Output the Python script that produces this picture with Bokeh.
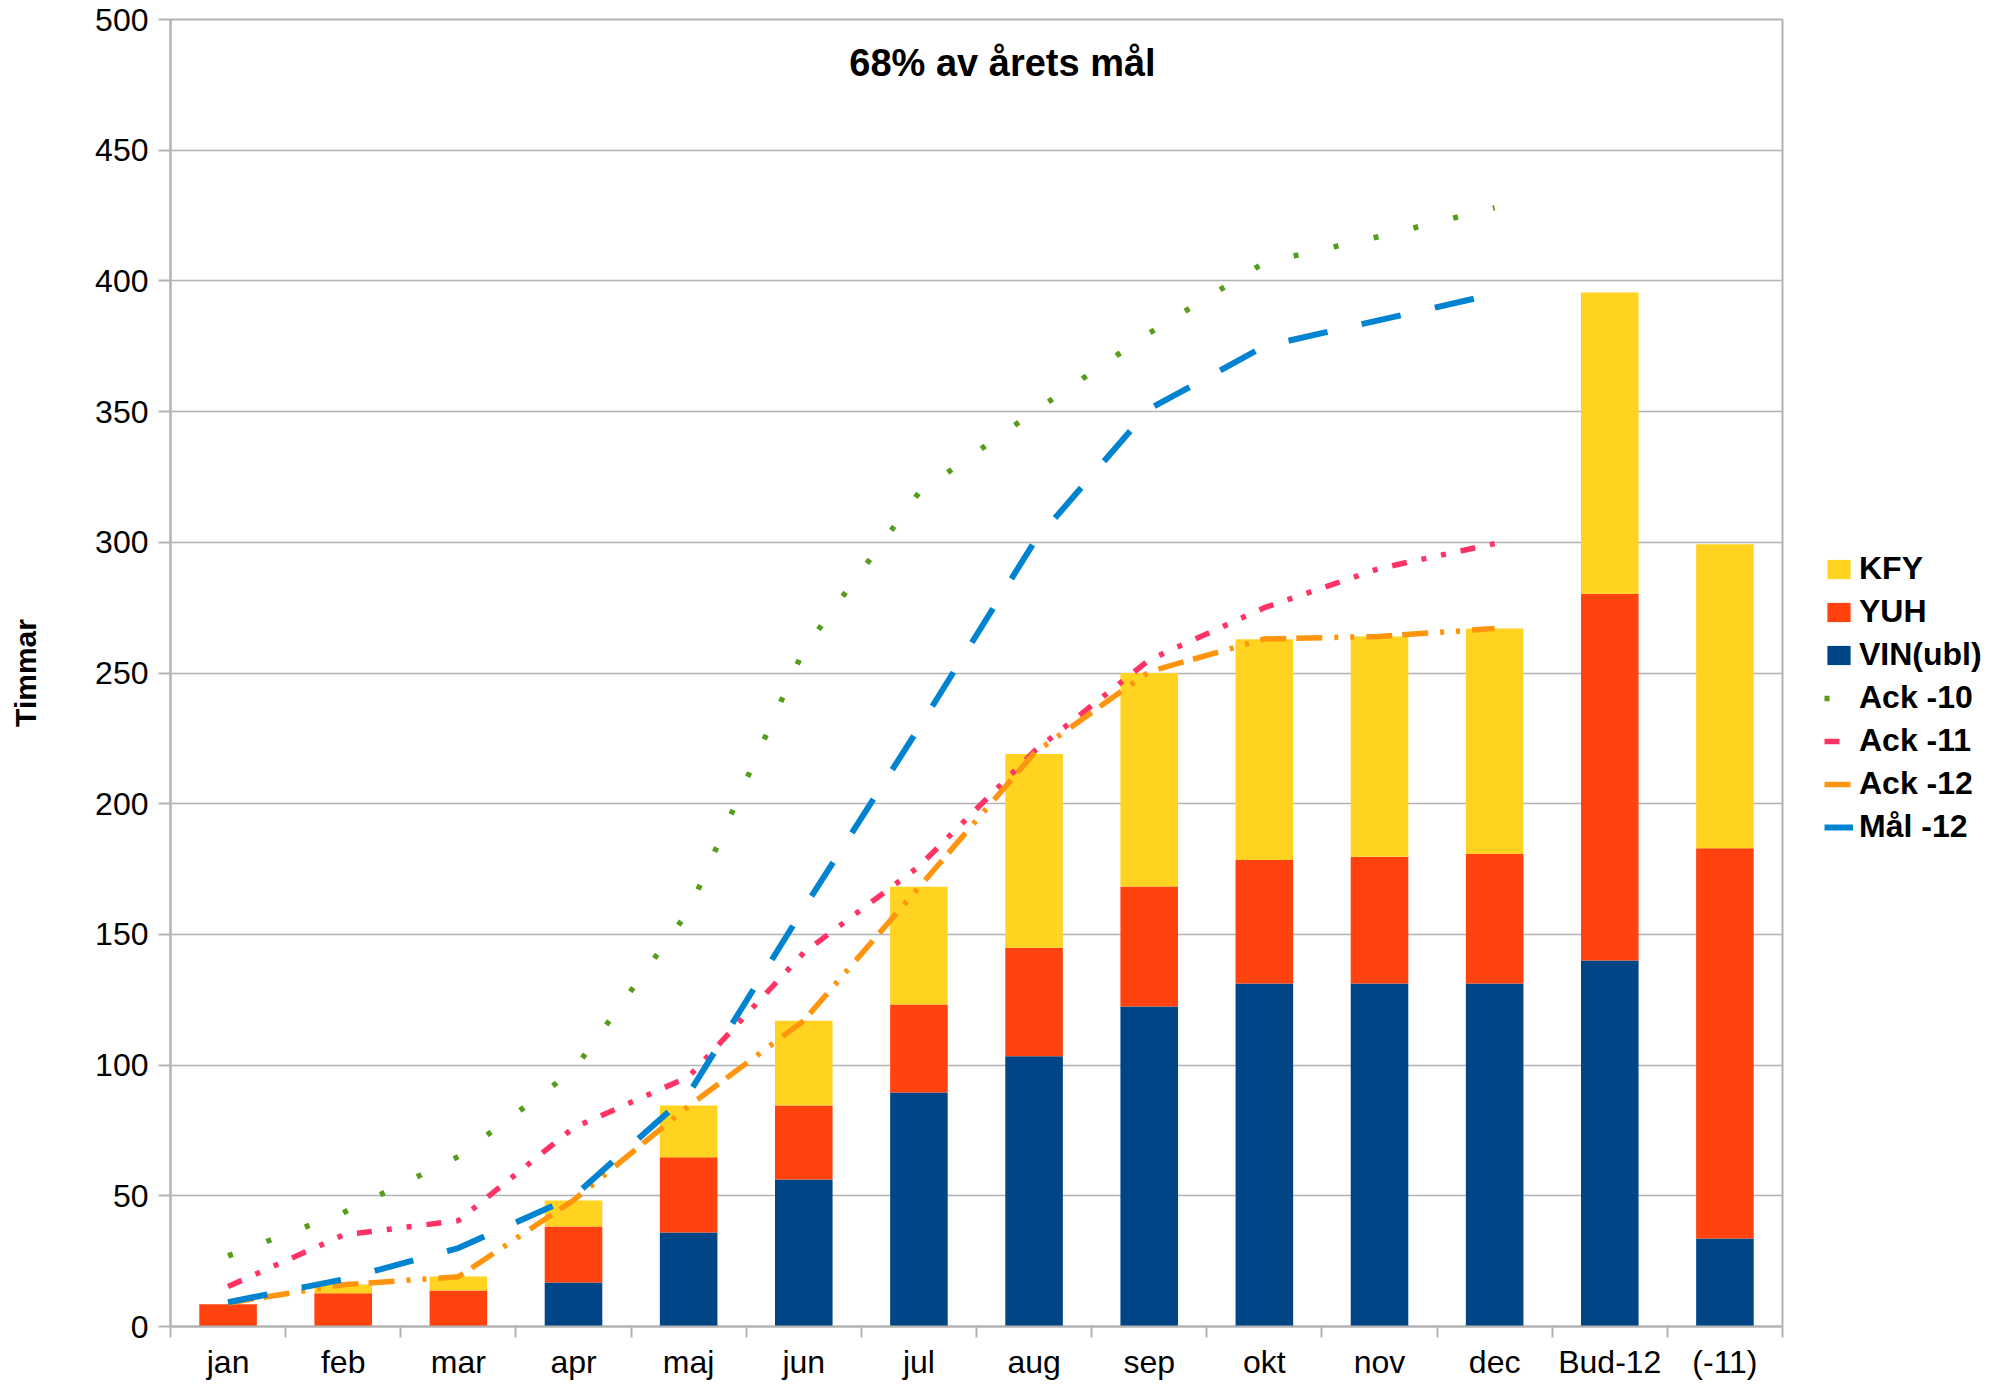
import numpy as np
from bokeh.plotting import figure
from bokeh.layouts import row
from bokeh.models import (Range1d, FixedTicker, SingleIntervalTicker, Legend, LegendItem,
                          Label, ColumnDataSource)
from bokeh.embed import file_html
from bokeh.resources import INLINE

# ---------------- data ----------------
categories = ["jan", "feb", "mar", "apr", "maj", "jun", "jul", "aug", "sep", "okt",
              "nov", "dec", "Bud-12", "(-11)"]
vin = [0, 0, 0, 16.8, 36.0, 56.2, 89.5, 103.4, 122.4, 131.2, 131.2, 131.2, 140.0, 33.7]
yuh = [8.5, 12.7, 13.8, 21.5, 28.7, 28.3, 33.7, 41.5, 45.9, 47.3, 48.5, 49.7, 140.3, 149.3]
kfy = [0, 3.4, 5.3, 9.9, 19.8, 32.5, 45.0, 74.1, 81.7, 84.4, 84.3, 86.1, 115.3, 116.3]

months = ["jan", "feb", "mar", "apr", "maj", "jun", "jul", "aug", "sep", "okt", "nov", "dec"]
ack10 = [27, 43.5, 65, 98, 159, 259, 319, 350, 380, 407, 417, 428]
ack11 = [15.3, 35, 40.5, 76, 95.5, 143, 176, 220, 255, 275, 290, 299.5]
ack12 = [9, 16, 19, 48.3, 84.3, 117, 168, 219.3, 250.5, 263, 264, 267]
mal12 = [9.3, 18, 30, 49.7, 89, 160, 229, 300, 351, 375, 385, 395]

y_ticks_step = 50
y_max = 500
title_text = "68% av årets mål"
y_label = "Timmar"

# category slots on a linear axis: slot i is centred at i + 0.5
n_cat = len(categories)
x_pos = list(np.arange(n_cat) + 0.5)
x_line = x_pos[:len(months)]
bounds = list(range(n_cat + 1))

# ---------------- style ----------------
FONT = "Liberation Sans"
GRID = "#b3b3b3"
C_VIN = "#004586"
C_YUH = "#FF420E"
C_KFY = "#FFD320"
C_A10 = "#579D1C"
C_A11 = "#FF3366"
C_A12 = "#FF950E"
C_MAL = "#0084D1"

STY10 = dict(line_color=C_A10, line_width=5.5, line_dash="5 36", line_cap="butt")
STY11 = dict(line_color=C_A11, line_width=5.5, line_dash="15 15 5 15 5 15", line_cap="butt")
STY12 = dict(line_color=C_A12, line_width=5.5, line_dash="26 10 26 12 4 12 4 12", line_cap="butt")
STYM = dict(line_color=C_MAL, line_width=6, line_dash="40 35", line_cap="butt")

p = figure(width=1784, height=1385,
           x_range=Range1d(0, n_cat), y_range=Range1d(0, y_max),
           output_backend="svg", toolbar_location=None,
           min_border_left=170, min_border_right=2,
           min_border_top=19, min_border_bottom=59)

p.background_fill_color = "white"
p.border_fill_color = "white"
p.outline_line_color = GRID
p.outline_line_width = 2

xax = p.xaxis[0]
xax.ticker = FixedTicker(ticks=x_pos, minor_ticks=bounds)
xax.major_label_overrides = {float(x): c for x, c in zip(x_pos, categories)}
xax.axis_line_color = GRID
xax.axis_line_width = 2
xax.major_tick_line_color = None
xax.major_tick_in = 0
xax.major_tick_out = 0
xax.minor_tick_line_color = GRID
xax.minor_tick_line_width = 2
xax.minor_tick_in = 0
xax.minor_tick_out = 11
xax.major_label_standoff = 6
xax.major_label_text_font = FONT
xax.major_label_text_font_size = "32px"
xax.major_label_text_color = "black"

yax = p.yaxis[0]
yax.ticker = SingleIntervalTicker(interval=y_ticks_step, num_minor_ticks=0)
yax.axis_line_color = GRID
yax.axis_line_width = 2
yax.major_tick_line_color = GRID
yax.major_tick_line_width = 2
yax.major_tick_in = 0
yax.major_tick_out = 12
yax.minor_tick_line_color = None
yax.major_label_text_font = FONT
yax.major_label_text_font_size = "32px"
yax.major_label_text_color = "black"
yax.major_label_standoff = 10
yax.axis_label = y_label
yax.axis_label_text_font = FONT
yax.axis_label_text_font_size = "30px"
yax.axis_label_text_font_style = "bold"
yax.axis_label_text_color = "black"
yax.axis_label_standoff = 50

p.xgrid.visible = False
p.ygrid.grid_line_color = GRID
p.ygrid.grid_line_width = 1.5

# bars
src = ColumnDataSource(dict(x=x_pos, vin=vin, yuh=yuh, kfy=kfy))
p.vbar_stack(["vin", "yuh", "kfy"], x="x", width=0.5,
             color=[C_VIN, C_YUH, C_KFY], line_color=None, source=src)

# lines
p.line(x_line, ack10, **STY10)
p.line(x_line, ack11, **STY11)
p.line(x_line, ack12, **STY12)
p.line(x_line, mal12, **STYM)

p.add_layout(Label(x=832, y=1264, x_units="screen", y_units="screen",
                   text=title_text, text_font=FONT, text_font_size="38px",
                   text_font_style="bold", text_align="center",
                   text_baseline="alphabetic", text_color="black"))

# ---------------- legend panel (separate figure on the right) ----------------
lf = figure(width=216, height=1385, x_range=Range1d(0, 1), y_range=Range1d(0, 1),
            output_backend="svg", toolbar_location=None,
            x_axis_location=None, y_axis_location=None, min_border=0)
lf.outline_line_color = None
lf.xgrid.visible = False
lf.ygrid.visible = False
lf.background_fill_color = "white"
lf.border_fill_color = "white"

# legend-only renderers (NaN data: nothing is drawn in the plot area)
def nan_bar_src():
    return ColumnDataSource(dict(x=np.array([np.nan]), top=np.array([np.nan])))

def nan_line_src():
    return ColumnDataSource(dict(x=np.array([np.nan]), y=np.array([np.nan])))

k_r = lf.vbar(x="x", top="top", width=0.5, color=C_KFY, line_color=None, source=nan_bar_src())
y_r = lf.vbar(x="x", top="top", width=0.5, color=C_YUH, line_color=None, source=nan_bar_src())
v_r = lf.vbar(x="x", top="top", width=0.5, color=C_VIN, line_color=None, source=nan_bar_src())
l10 = lf.line(x="x", y="y", source=nan_line_src(), **STY10)
l11 = lf.line(x="x", y="y", source=nan_line_src(), **STY11)
l12 = lf.line(x="x", y="y", source=nan_line_src(), **STY12)
lm = lf.line(x="x", y="y", source=nan_line_src(), **STYM)

legend = Legend(items=[LegendItem(label="KFY", renderers=[k_r]),
                       LegendItem(label="YUH", renderers=[y_r]),
                       LegendItem(label="VIN(ubl)", renderers=[v_r]),
                       LegendItem(label="Ack -10", renderers=[l10]),
                       LegendItem(label="Ack -11", renderers=[l11]),
                       LegendItem(label="Ack -12", renderers=[l12]),
                       LegendItem(label="Mål -12", renderers=[lm])],
                location=(40, 481), margin=0,
                glyph_width=29, glyph_height=24, label_standoff=6,
                label_text_font=FONT, label_text_font_size="32px",
                label_text_font_style="bold", label_text_color="black",
                label_height=36, spacing=6, padding=0,
                border_line_color=None, background_fill_alpha=0)
lf.add_layout(legend, "center")

layout = row(p, lf, spacing=0)
open("out.html", "w").write(file_html(layout, INLINE))
